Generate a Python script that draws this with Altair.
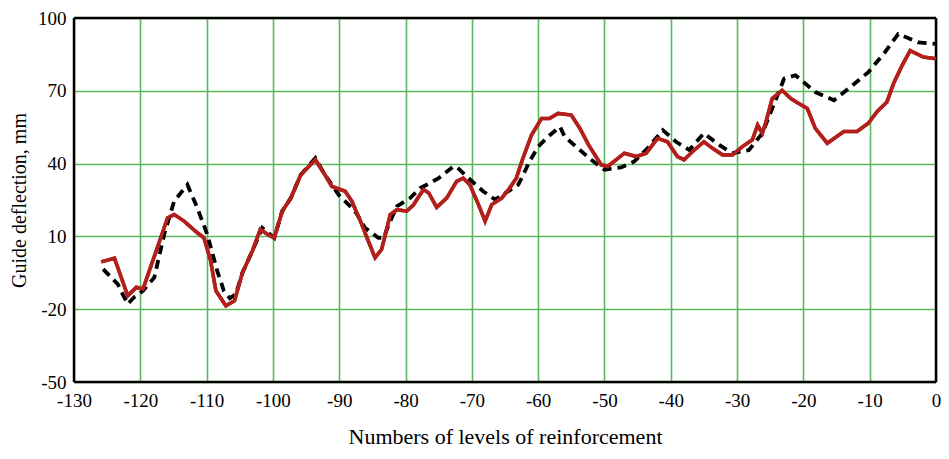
import altair as alt
import pandas as pd

# Solid red series (measured)
red_x = [-125.9, -123.9, -121.9, -120.6, -119.6, -117.1, -115.9, -114.9, -113.4, -111.4,
         -110.4, -109.4, -108.6, -107.1, -105.8, -104.6, -103.1, -101.9, -100.8, -99.8,
         -98.6, -97.3, -95.8, -93.6, -92.3, -91.1, -89.1, -88.1, -86.8, -85.6,
         -84.6, -83.6, -82.3, -81.3, -79.8, -78.8, -77.3, -76.5, -75.3, -73.8,
         -72.3, -71.3, -70.3, -69.0, -68.0, -67.0, -65.5, -64.3, -63.3, -62.3,
         -61.0, -59.5, -58.3, -57.0, -55.0, -53.7, -52.4, -50.5, -49.5, -47.0,
         -45.2, -43.7, -42.0, -40.5, -39.0, -38.0, -36.7, -35.0, -33.7, -32.2,
         -30.7, -29.2, -27.7, -26.9, -26.2, -25.7, -24.7, -23.2, -21.9, -20.7,
         -19.4, -18.2, -16.4, -13.9, -11.9, -10.2, -8.9, -7.4, -6.4, -5.1,
         -3.9, -1.9, 0.0]
red_y = [-0.5, 1.0, -14.5, -11.0, -11.7, 8.0, 17.6, 19.0, 16.3, 11.5,
         9.4, 0.0, -12.4, -18.6, -16.5, -5.0, 4.0, 12.9, 10.8, 9.4,
         20.4, 25.8, 35.4, 41.6, 36.0, 30.6, 28.6, 24.5, 16.3, 8.0,
         1.2, 4.7, 19.0, 21.0, 20.4, 23.0, 29.3, 27.9, 22.0, 25.8,
         32.7, 34.0, 31.3, 23.1, 16.3, 23.1, 25.8, 29.9, 34.0, 42.2,
         51.8, 58.6, 58.6, 60.7, 60.0, 54.5, 47.7, 39.5, 38.8, 44.3,
         42.9, 44.3, 50.4, 49.0, 42.9, 41.6, 45.0, 49.0, 46.3, 43.6,
         43.6, 47.0, 49.8, 55.9, 52.5, 56.6, 66.8, 70.2, 66.8, 64.8,
         62.7, 54.5, 48.4, 53.2, 53.2, 56.6, 61.4, 65.4, 73.0, 80.5,
         86.6, 83.9, 83.2]

# Dashed black series (measured)
black_x = [-125.6, -123.4, -121.9, -120.9, -119.6, -117.9, -116.4, -114.9, -112.9, -111.4,
           -109.9, -108.4, -107.4, -106.5, -105.6, -104.6, -103.1, -101.6, -99.8, -98.6,
           -97.3, -95.8, -93.6, -92.3, -90.1, -87.6, -86.1, -84.1, -83.3, -82.3,
           -81.3, -79.3, -77.8, -76.8, -75.0, -72.8, -72.3, -70.5, -68.3, -66.5,
           -65.3, -63.0, -62.5, -61.3, -60.0, -58.5, -56.7, -56.0, -54.0, -52.0,
           -50.0, -47.5, -45.5, -43.5, -41.2, -39.2, -37.2, -35.0, -32.7, -30.7,
           -28.2, -26.2, -24.7, -22.9, -21.2, -18.2, -15.4, -13.2, -10.2, -7.7,
           -5.7, -2.7, 0.0]
black_y = [-3.5, -9.7, -17.9, -15.0, -12.4, -7.0, 10.8, 24.5, 31.3, 21.7,
           10.8, -4.2, -12.4, -15.5, -13.8, -5.0, 4.0, 13.5, 9.4, 20.4,
           25.8, 35.4, 42.3, 36.0, 27.2, 20.4, 13.5, 9.4, 9.4, 16.3,
           22.4, 25.8, 29.9, 31.3, 34.0, 38.8, 38.7, 34.0, 28.6, 25.2,
           27.2, 31.3, 34.0, 40.9, 47.0, 51.1, 55.2, 51.1, 46.3, 41.6,
           37.5, 38.4, 40.9, 46.3, 53.8, 49.0, 45.6, 52.5, 47.7, 44.3,
           45.6, 52.5, 62.7, 75.0, 76.4, 69.5, 66.1, 70.9, 77.7, 85.9,
           93.4, 90.0, 89.3]

x_ticks = list(range(-130, 1, 10))
y_grid = list(range(-50, 101, 15))
x_domain = [-130, 0]
y_domain = [-50, 100]

red_df = pd.DataFrame({"x": red_x, "y": red_y, "i": range(len(red_x))})
black_df = pd.DataFrame({"x": black_x, "y": black_y, "i": range(len(black_x))})

FONT = "Liberation Serif"
GRID = "#5cb85c"
W, H = 862, 364

x_enc = alt.X("x:Q", scale=alt.Scale(domain=x_domain, nice=False, zero=False),
              axis=alt.Axis(values=x_ticks, title="Numbers of levels of reinforcement",
                            labelExpr="toString(datum.value)",
                            grid=True, gridColor=GRID, gridWidth=1.6, gridOpacity=1,
                            ticks=False, domain=False, labelFont=FONT, labelFontSize=19,
                            labelColor="#000", labelPadding=9, titleFont=FONT,
                            titleFontSize=22, titleFontWeight="normal", titleColor="#000",
                            titlePadding=16, labelFlush=False))
y_enc = alt.Y("y:Q", scale=alt.Scale(domain=y_domain, nice=False, zero=False),
              axis=alt.Axis(values=y_grid, title="Guide deflection, mm",
                            labelExpr="(datum.value + 50) % 30 == 0 ? toString(datum.value) : ''",
                            grid=True, gridColor=GRID, gridWidth=1.6, gridOpacity=1,
                            ticks=False, domain=False, labelFont=FONT, labelFontSize=19,
                            labelColor="#000", labelPadding=8, titleFont=FONT,
                            titleFontSize=20, titleFontWeight="normal", titleColor="#000",
                            titlePadding=8, labelFlush=False))

frame_layers = []
for xv in x_domain:
    frame_layers.append(alt.Chart().mark_rule(color="#000", strokeWidth=2.5).encode(
        x=alt.datum(xv)))
for yv in y_domain:
    frame_layers.append(alt.Chart().mark_rule(color="#000", strokeWidth=2.5).encode(
        y=alt.datum(yv)))

red = alt.Chart(red_df).mark_line(color="#b3201c", strokeWidth=3.6).encode(
    x=x_enc, y=y_enc, order="i:Q")
black = alt.Chart(black_df).mark_line(color="#000000", strokeWidth=3.8,
                                       strokeDash=[9, 6]).encode(
    x="x:Q", y="y:Q", order="i:Q")

chart = alt.layer(red, *frame_layers, black, red).properties(
    width=W, height=H,
    autosize=alt.AutoSizeParams(type="none"),
    padding={"left": 66, "top": 10, "right": 5, "bottom": 70},
).configure_view(strokeWidth=0).configure(background="white")

chart.save("out.html", embed_options={"renderer": "svg", "actions": False})
